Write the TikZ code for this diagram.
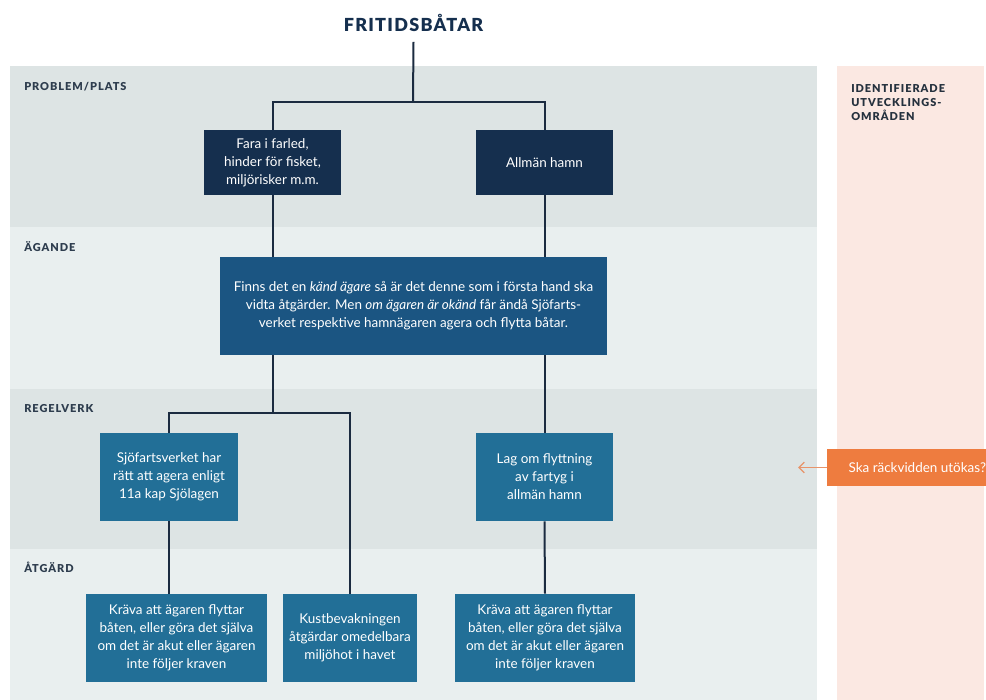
\documentclass[tikz,border=0pt]{standalone}
\usepackage{fontspec}
\setmainfont{Lato}
\newfontfamily\capsfont[LetterSpace=9]{Lato Black}
\newfontfamily\titlefont[LetterSpace=7]{Lato Black}
\usetikzlibrary{arrows.meta}
\definecolor{bandA}{HTML}{DDE4E4}
\definecolor{bandB}{HTML}{E9EFEF}
\definecolor{panel}{HTML}{FBE8E2}
\definecolor{navy}{HTML}{152F4E}
\definecolor{midblue}{HTML}{1B5582}
\definecolor{tealblue}{HTML}{226F97}
\definecolor{linecol}{HTML}{1B2B40}
\definecolor{labelcol}{HTML}{2E3D4E}
\definecolor{orangebox}{HTML}{EE7C3F}
\definecolor{orangeline}{HTML}{E8946A}
\tikzset{
  box/.style={rectangle, text=white, align=center, inner sep=2pt, font=\fontsize{10.1}{13.5}\selectfont},
  navybox/.style={box, fill=navy},
  midbox/.style={box, fill=midblue},
  tealbox/.style={box, fill=tealblue},
  conn/.style={draw=linecol, line width=1.5pt},
  bandlabel/.style={anchor=base west, inner sep=0pt, text=labelcol, font=\capsfont\fontsize{8.2}{10.5}\selectfont},
}
\begin{document}
\begin{tikzpicture}[x=0.75pt,y=-0.75pt]
\useasboundingbox (0,0) rectangle (986,700);
\clip (0,0) rectangle (986,700);
\fill[white] (0,0) rectangle (986,700);
% bands
\fill[bandA] (10,66) rectangle (817,227);
\fill[bandB] (10,227) rectangle (817,389);
\fill[bandA] (10,389) rectangle (817,549);
\fill[bandB] (10,549) rectangle (817,700);
\fill[panel] (837,66) rectangle (984,700);
% band labels
\node[bandlabel] (l1) at (24,90) {PROBLEM/PLATS};
\node[bandlabel] (l2) at (24,251) {ÄGANDE};
\node[bandlabel] (l3) at (24,412) {REGELVERK};
\node[bandlabel] (l4) at (24,572) {ÅTGÄRD};
\node[anchor=north west, inner sep=0pt, align=left, text=labelcol!80!black, font=\capsfont\fontsize{8.2}{10.5}\selectfont] (pl) at (851,84) {IDENTIFIERADE\\UTVECKLINGS-\\OMRÅDEN};
% title
\node[text=navy, font=\titlefont\fontsize{13.5}{16}\selectfont, inner sep=0pt] (t) at (413.5,23) {FRITIDSBÅTAR};
% boxes
\node[navybox, minimum width=137*0.75pt, minimum height=65*0.75pt] (b1) at (272.5,162.5) {Fara i farled,\\hinder för fisket,\\miljörisker m.m.};
\node[navybox, minimum width=137*0.75pt, minimum height=65*0.75pt] (b2) at (544.5,162.5) {Allmän hamn};
\node[midbox, minimum width=387*0.75pt, minimum height=98*0.75pt] (big) at (413.5,306) {Finns det en \textit{känd ägare} så är det denne som i första hand ska\\vidta åtgärder. Men \textit{om ägaren är okänd} får ändå Sjöfarts-\\verket respektive hamnägaren agera och flytta båtar.};
\node[tealbox, minimum width=138*0.75pt, minimum height=88*0.75pt] (sjo) at (169,477) {Sjöfartsverket har\\rätt att agera enligt\\11a kap Sjölagen};
\node[tealbox, minimum width=137*0.75pt, minimum height=88*0.75pt] (lag) at (544.5,477) {Lag om flyttning\\av fartyg i\\allmän hamn};
\node[tealbox, minimum width=181*0.75pt, minimum height=88*0.75pt] (ka) at (176.5,638) {Kräva att ägaren flyttar\\båten, eller göra det själva\\om det är akut eller ägaren\\inte följer kraven};
\node[tealbox, minimum width=134*0.75pt, minimum height=88*0.75pt] (kb) at (350,638) {Kustbevakningen\\åtgärdar omedelbara\\miljöhot i havet};
\node[tealbox, minimum width=180*0.75pt, minimum height=88*0.75pt] (kc) at (545,638) {Kräva att ägaren flyttar\\båten, eller göra det själva\\om det är akut eller ägaren\\inte följer kraven};
% connectors
\coordinate (j1) at (413,102);
\coordinate (j2) at (272.5,413);
\draw[conn] (t.south) ++(0,10) -- (j1);
\draw[conn] (b1.north) |- (j1) -| (b2.north);
\draw[conn] (b1.south) -- (b1.south |- big.north);
\draw[conn] (b2.south) -- (b2.south |- big.north);
\draw[conn] (big.south -| j2) -- (j2);
\draw[conn] (sjo.north) |- (j2) -| (kb.north);
\draw[conn] (big.south -| b2) -- (lag.north);
\draw[conn] (lag.south) -- (kc.north);
\draw[conn] (sjo.south) -- (sjo.south |- ka.north);
% orange
\node[anchor=west, fill=orangebox, text=white, minimum height=37*0.75pt, inner xsep=16pt, font=\fontsize{10.1}{12}\selectfont] (ork) at (827,467.5) {Ska räckvidden utökas?};
\coordinate (ae) at (798,467.5);
\draw[draw=orangeline, line width=1pt, -{Straight Barb[length=4pt,width=8pt]}] (ork.west) -- (ae);
\end{tikzpicture}
\end{document}
